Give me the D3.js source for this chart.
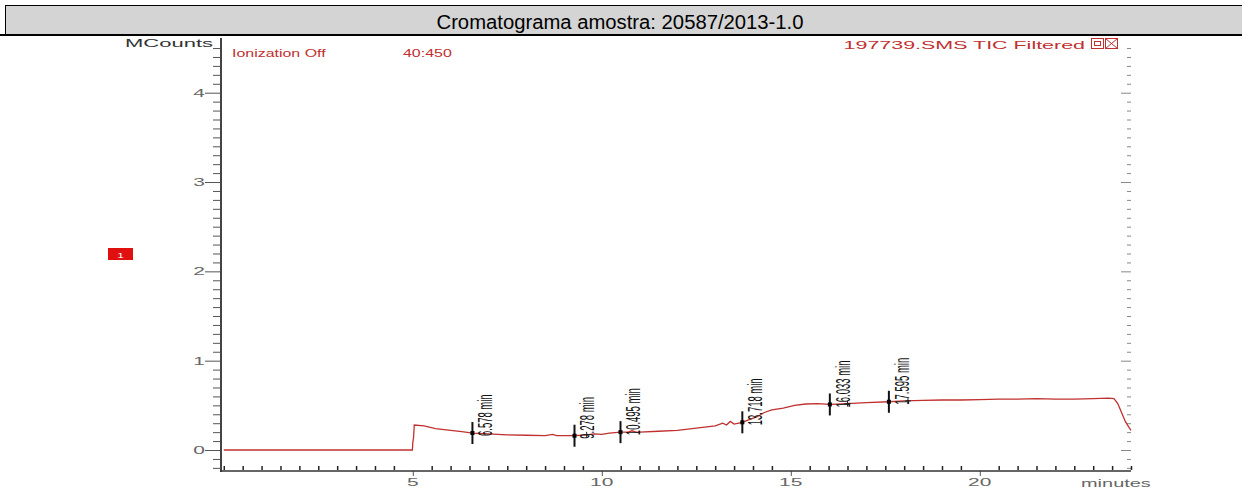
<!DOCTYPE html>
<html>
<head>
<meta charset="utf-8">
<script src="https://cdn.jsdelivr.net/npm/d3@7/dist/d3.min.js"></script>
<style>
  html, body { margin: 0; padding: 0; background: #fff; }
  svg { display: block; }
  text { font-family: "Liberation Sans", Arial, sans-serif; }
</style>
</head>
<body>
<div id="chart"></div>
<script>
// ---------- data ----------
const titleText = "Cromatograma amostra: 20587/2013-1.0";
const traceTimes  = [0, 4.99, 5.0, 5.02, 5.04, 5.3, 5.6, 6.0, 6.3, 6.578, 7.0, 7.5, 8.0, 8.5, 8.7, 8.8, 9.0, 9.278, 9.6, 9.8, 10.0, 10.2, 10.495, 10.7, 10.8, 10.9, 11.0, 11.5, 12.0, 12.5, 13.0, 13.2, 13.3, 13.4, 13.5, 13.718, 13.9, 14.1, 14.3, 14.5, 14.8, 15.1, 15.4, 15.7, 16.033, 16.5, 17.0, 17.595, 18.0, 18.5, 19.0, 19.5, 20.0, 20.5, 21.0, 21.5, 22.0, 22.5, 23.0, 23.4, 23.55, 23.65, 23.75, 23.85, 23.95, 24.0];
const traceValues = [0, 0, 0.08, 0.14, 0.28, 0.27, 0.24, 0.22, 0.205, 0.19, 0.18, 0.17, 0.165, 0.16, 0.175, 0.16, 0.16, 0.16, 0.17, 0.18, 0.175, 0.19, 0.2, 0.2, 0.215, 0.2, 0.2, 0.21, 0.22, 0.245, 0.27, 0.3, 0.28, 0.32, 0.29, 0.31, 0.34, 0.37, 0.42, 0.45, 0.47, 0.5, 0.515, 0.52, 0.51, 0.52, 0.53, 0.54, 0.55, 0.555, 0.56, 0.56, 0.565, 0.57, 0.57, 0.575, 0.57, 0.57, 0.575, 0.58, 0.575, 0.52, 0.42, 0.32, 0.25, 0.22];
const peakTimes  = [6.578, 9.278, 10.495, 13.718, 16.033, 17.595];
const peakValues = [0.19, 0.16, 0.2, 0.31, 0.51, 0.54];
const peakLabels = ["6.578 min", "9.278 min", "10.495 min", "13.718 min", "16.033 min", "17.595 min"];
const plusTimes  = [9.6, 16.5, 18.1];
const plusValues = [0.17, 0.52, 0.55];
const yMajorTicks = [0, 1, 2, 3, 4];
const yTickLabels = ["0", "1", "2", "3", "4"];
const xMajorTicks = [5, 10, 15, 20];
const xTickLabels = ["5", "10", "15", "20"];

// ---------- layout ----------
const W = 1242, H = 488;
const red = "#c0302f";
const svg = d3.select("#chart").append("svg").attr("width", W).attr("height", H);

const x = d3.scaleLinear().domain([-0.1, 24]).range([220, 1131]);
const y = d3.scaleLinear().domain([-0.235, 4.59]).range([471, 40]);

function stext(x0, y0, txt, o) {
  return svg.append("text")
    .attr("transform", `translate(${x0},${y0}) scale(${o.sx || 1},1)`)
    .attr("font-size", o.size)
    .attr("fill", o.fill || "#000")
    .attr("text-anchor", o.anchor || "start")
    .text(txt);
}
function tickGroup(tx, ty, axis) {
  const g = svg.append("g").attr("transform", `translate(${tx},${ty})`).call(axis);
  g.select(".domain").remove();
  return g;
}

// title bar
svg.append("rect").attr("x", 5).attr("y", 5).attr("width", W - 5).attr("height", 30).attr("fill", "#d4d4d4");
svg.append("line").attr("x1", 5).attr("x2", W).attr("y1", 5.5).attr("y2", 5.5).attr("stroke", "#000").attr("stroke-width", 1);
svg.append("line").attr("x1", 5.5).attr("x2", 5.5).attr("y1", 5).attr("y2", 35).attr("stroke", "#000").attr("stroke-width", 1);
svg.append("line").attr("x1", 0).attr("x2", W).attr("y1", 35).attr("y2", 35).attr("stroke", "#000").attr("stroke-width", 2);
svg.append("text").attr("x", 620).attr("y", 29).attr("font-size", 20).attr("text-anchor", "middle")
  .attr("textLength", 367).attr("lengthAdjust", "spacingAndGlyphs").text(titleText);

// left axis: minor and major ticks
const minorY = d3.range(-2, 46).map(i => i / 10).filter(v => !yMajorTicks.includes(v));
tickGroup(221, 0, d3.axisLeft(y).tickValues(minorY).tickSize(8).tickFormat("")).selectAll("line").attr("stroke", "#555");
tickGroup(221, 0, d3.axisLeft(y).tickValues(yMajorTicks).tickSize(16).tickFormat("")).selectAll("line").attr("stroke", "#555");
svg.append("line").attr("x1", 221).attr("x2", 221).attr("y1", 38).attr("y2", 472).attr("stroke", "#444").attr("stroke-width", 2);
yMajorTicks.forEach((v, i) => stext(205, y(v) + 4, yTickLabels[i], { size: 10.5, sx: 2, fill: "#666", anchor: "end" }));

// right side ticks (no line)
tickGroup(1131, 0, d3.axisLeft(y).tickValues(minorY).tickSize(4).tickFormat("")).selectAll("line").attr("stroke", "#888");
tickGroup(1131, 0, d3.axisLeft(y).tickValues(yMajorTicks).tickSize(10).tickFormat("")).selectAll("line").attr("stroke", "#888");

// bottom axis
const minorX = d3.range(0, 49).map(i => i / 2).filter(v => !xMajorTicks.includes(v));
tickGroup(0, 470, d3.axisTop(x).tickValues(minorX).tickSize(4).tickFormat("")).selectAll("line").attr("stroke", "#222").attr("stroke-width", 1.5);
tickGroup(0, 471, d3.axisBottom(x).tickValues(xMajorTicks).tickSize(5).tickFormat("")).selectAll("line").attr("stroke", "#555");
svg.append("line").attr("x1", 220).attr("x2", 1131).attr("y1", 471).attr("y2", 471).attr("stroke", "#333").attr("stroke-width", 1.5);
xMajorTicks.forEach((v, i) => stext(x(v), 486, xTickLabels[i], { size: 10.5, sx: 2, fill: "#666", anchor: "middle" }));
stext(1081, 487, "minutes", { size: 10.5, sx: 1.9, fill: "#666" });

// header texts
stext(213, 47, "MCounts", { size: 11, sx: 2, fill: "#333", anchor: "end" });
stext(232, 57, "Ionization Off", { size: 11, sx: 1.45, fill: red });
stext(403, 57, "40:450", { size: 11, sx: 1.45, fill: red });
stext(1085, 49, "197739.SMS TIC Filtered", { size: 11, sx: 1.95, fill: red, anchor: "end" });
// window icons
svg.append("rect").attr("x", 1091.5).attr("y", 38.5).attr("width", 12).attr("height", 10).attr("fill", "#fff").attr("stroke", red);
svg.append("rect").attr("x", 1094.5).attr("y", 41.5).attr("width", 6).attr("height", 4).attr("fill", "none").attr("stroke", red);
svg.append("rect").attr("x", 1105.5).attr("y", 38.5).attr("width", 12).attr("height", 10).attr("fill", "#fff").attr("stroke", red);
svg.append("path").attr("d", "M1105.5,38.5L1117.5,48.5M1117.5,38.5L1105.5,48.5").attr("stroke", red);

// red badge
svg.append("rect").attr("x", 108).attr("y", 248).attr("width", 25).attr("height", 12).attr("fill", "#e01010");
stext(120.5, 257.5, "1", { size: 8, sx: 1.5, fill: "#fff", anchor: "middle" });

// trace
const pts = traceTimes.map((t, i) => [t, traceValues[i]]);
svg.append("path").datum(pts)
  .attr("d", d3.line().x(d => x(d[0])).y(d => y(d[1])))
  .attr("fill", "none").attr("stroke", red).attr("stroke-width", 1.3);

// peak markers
peakTimes.forEach((t, i) => {
  const px = x(t), py = y(peakValues[i]);
  svg.append("line").attr("x1", px).attr("x2", px).attr("y1", py - 11).attr("y2", py + 11).attr("stroke", "#111").attr("stroke-width", 2);
  svg.append("rect").attr("x", px - 2).attr("y", py - 2).attr("width", 4).attr("height", 4).attr("fill", "#000");
  svg.append("text")
    .attr("transform", `translate(${px + 20},${py + 3}) scale(2.1,1) rotate(-90)`)
    .attr("font-size", 9.5).attr("fill", "#111").text(peakLabels[i]);
});
plusTimes.forEach((t, i) => {
  const px = x(t), py = y(plusValues[i]);
  svg.append("path").attr("d", `M${px - 3},${py}H${px + 3}M${px},${py - 3}V${py + 3}`).attr("stroke", "#222").attr("stroke-width", 1);
});
</script>
</body>
</html>
